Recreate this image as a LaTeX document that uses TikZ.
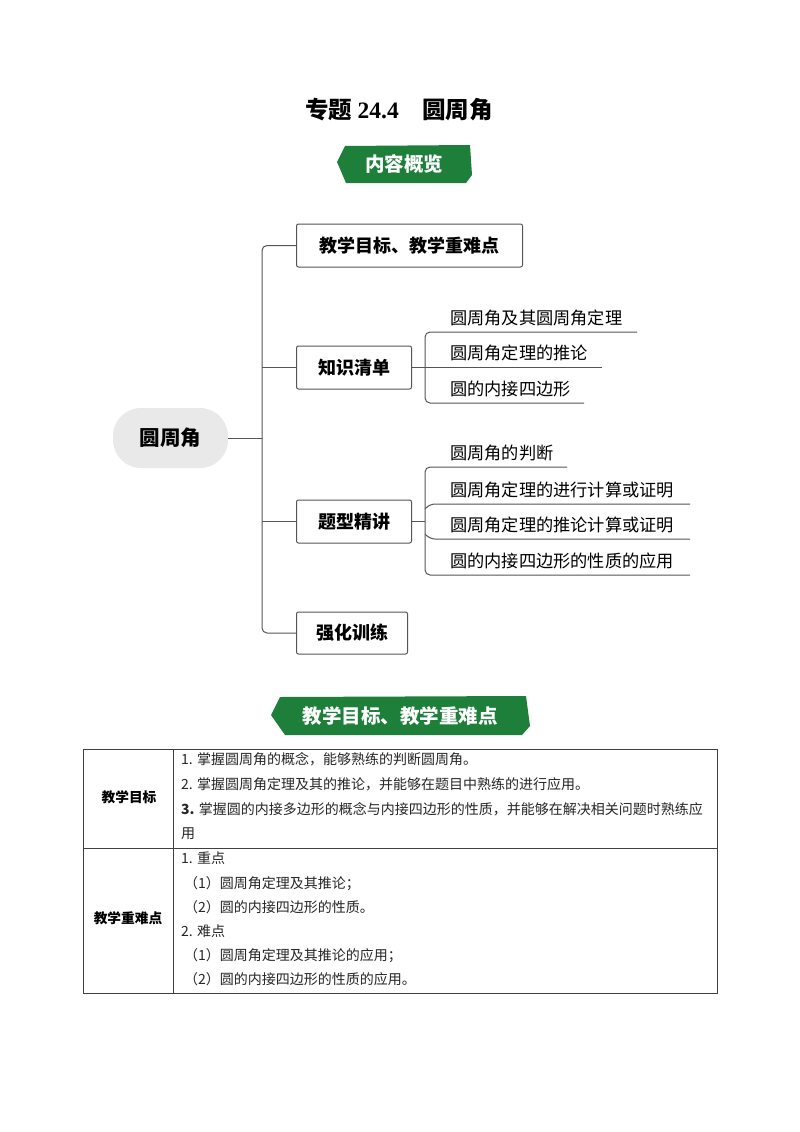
\documentclass[tikz,border=0pt]{standalone}
\usepackage{fontspec}
\setmainfont{Liberation Serif}
\newfontfamily\cjk{Noto Sans CJK SC}
\definecolor{bgreen}{HTML}{1E7F3A}
\definecolor{lgray}{HTML}{E9E9E9}
\definecolor{lnc}{HTML}{555555}
\begin{document}
\begin{tikzpicture}[x=1pt,y=-1pt,
  mbox/.style={draw=lnc,line width=1pt,rounded corners=2pt,anchor=west,inner sep=0pt,font=\cjk\bfseries\fontsize{18}{20}\selectfont},
  leaf/.style={anchor=west,inner sep=0pt,font=\cjk\fontsize{17.2}{19}\selectfont},
  ln/.style={draw=lnc,line width=1pt},
  tlab/.style={font=\cjk\bfseries\fontsize{13.7}{16}\selectfont},
  tx/.style={anchor=west,inner sep=0pt,font=\cjk\fontsize{14}{16}\selectfont,text=black!85},
  bantext/.style={text=white,font=\cjk\bfseries\fontsize{19.5}{22}\selectfont}]
\useasboundingbox (0,0) rectangle (800,1132);
\fill[white] (0,0) rectangle (800,1132);
% title
\node (title) at (399,110) {\cjk\bfseries\fontsize{23.5}{28}\selectfont 专题 \textbf{\fontspec{Liberation Serif}24.4}\quad 圆周角};
% banner 1
\fill[bgreen] (345,146) -- (470,145) -- (472,175) -- (466,183) -- (346,183) -- (337,162) -- cycle;
\node[bantext] (ban1) at (404,164) {内容概览};
% root
\node[fill=lgray,rounded corners=28pt,minimum width=115pt,minimum height=60pt,font=\cjk\bfseries\fontsize{20.5}{24}\selectfont] (root) at (170.5,438) {圆周角};
% boxes
\node[mbox,minimum width=226pt,minimum height=43pt] (b1) at (296,245.5) {教学目标、教学重难点};
\node[mbox,minimum width=115pt,minimum height=43pt] (b2) at (296,367.5) {知识清单};
\node[mbox,minimum width=115pt,minimum height=43pt] (b3) at (296,521.5) {题型精讲};
\node[mbox,minimum width=111pt,minimum height=42pt] (b4) at (296,633) {强化训练};
\coordinate (tr) at (262,438);
\draw[ln] (root.east) -- (tr);
\draw[ln,rounded corners=5pt] (b1.west) -| (tr) |- (b4.west);
\draw[ln] (tr |- b2.west) -- (b2.west);
\draw[ln] (tr |- b3.west) -- (b3.west);
% leaves 知识清单
\node[leaf] (k1) at (450,318) {圆周角及其圆周角定理};
\node[leaf] (k2) at (450,353) {圆周角定理的推论};
\node[leaf] (k3) at (450,389) {圆的内接四边形};
\coordinate (kv) at (425,367.5);
\draw[ln] (b2.east) -- (kv);
\draw[ln,rounded corners=5pt] (637,332) -- (425,332) -- (425,403) -- (584,403);
\draw[ln] (kv) -- (602,367.5);
% leaves 题型精讲
\node[leaf] (t1) at (450,453) {圆周角的判断};
\node[leaf] (t2) at (450,490) {圆周角定理的进行计算或证明};
\node[leaf] (t3) at (450,525) {圆周角定理的推论计算或证明};
\node[leaf] (t4) at (450,561) {圆的内接四边形的性质的应用};
\coordinate (tv) at (425,521.5);
\draw[ln] (b3.east) -- (tv);
\draw[ln,rounded corners=5pt] (567,467) -- (425,467) -- (425,575) -- (690,575);
\draw[ln,rounded corners=5pt] (690,504) -- (430,504) -- (425,509);
\draw[ln,rounded corners=5pt] (690,539) -- (430,539) -- (425,534);
% banner 2
\fill[bgreen] (280,697) -- (526,696) -- (530,726) -- (522,735) -- (285,735) -- (271,715) -- cycle;
\node[bantext] (ban2) at (400,716) {教学目标、教学重难点};
% table
\draw[line width=0.9pt,black!75] (83,749) rectangle (717,993);
\draw[line width=0.9pt,black!75] (83,848) -- (717,848);
\draw[line width=0.9pt,black!75] (173,749) -- (173,993);
\node[tlab] (l1) at (129,797) {教学目标};
\node[tlab] (l2) at (128,918) {教学重难点};
\node[tx] (r1) at (181,759) {1. 掌握圆周角的概念，能够熟练的判断圆周角。};
\node[tx] (r2) at (181,784) {2. 掌握圆周角定理及其的推论，并能够在题目中熟练的进行应用。};
\node[tx] (r3) at (181,809) {\textbf{3.} 掌握圆的内接多边形的概念与内接四边形的性质，并能够在解决相关问题时熟练应};
\node[tx] (r4) at (181,834) {用};
\node[tx] (s1) at (181,858) {1. 重点};
\node[tx] (s2) at (184,884) {（1）圆周角定理及其推论；};
\node[tx] (s3) at (184,907) {（2）圆的内接四边形的性质。};
\node[tx] (s4) at (181,931) {2. 难点};
\node[tx] (s5) at (184,956) {（1）圆周角定理及其推论的应用；};
\node[tx] (s6) at (184,979) {（2）圆的内接四边形的性质的应用。};
\end{tikzpicture}
\end{document}
